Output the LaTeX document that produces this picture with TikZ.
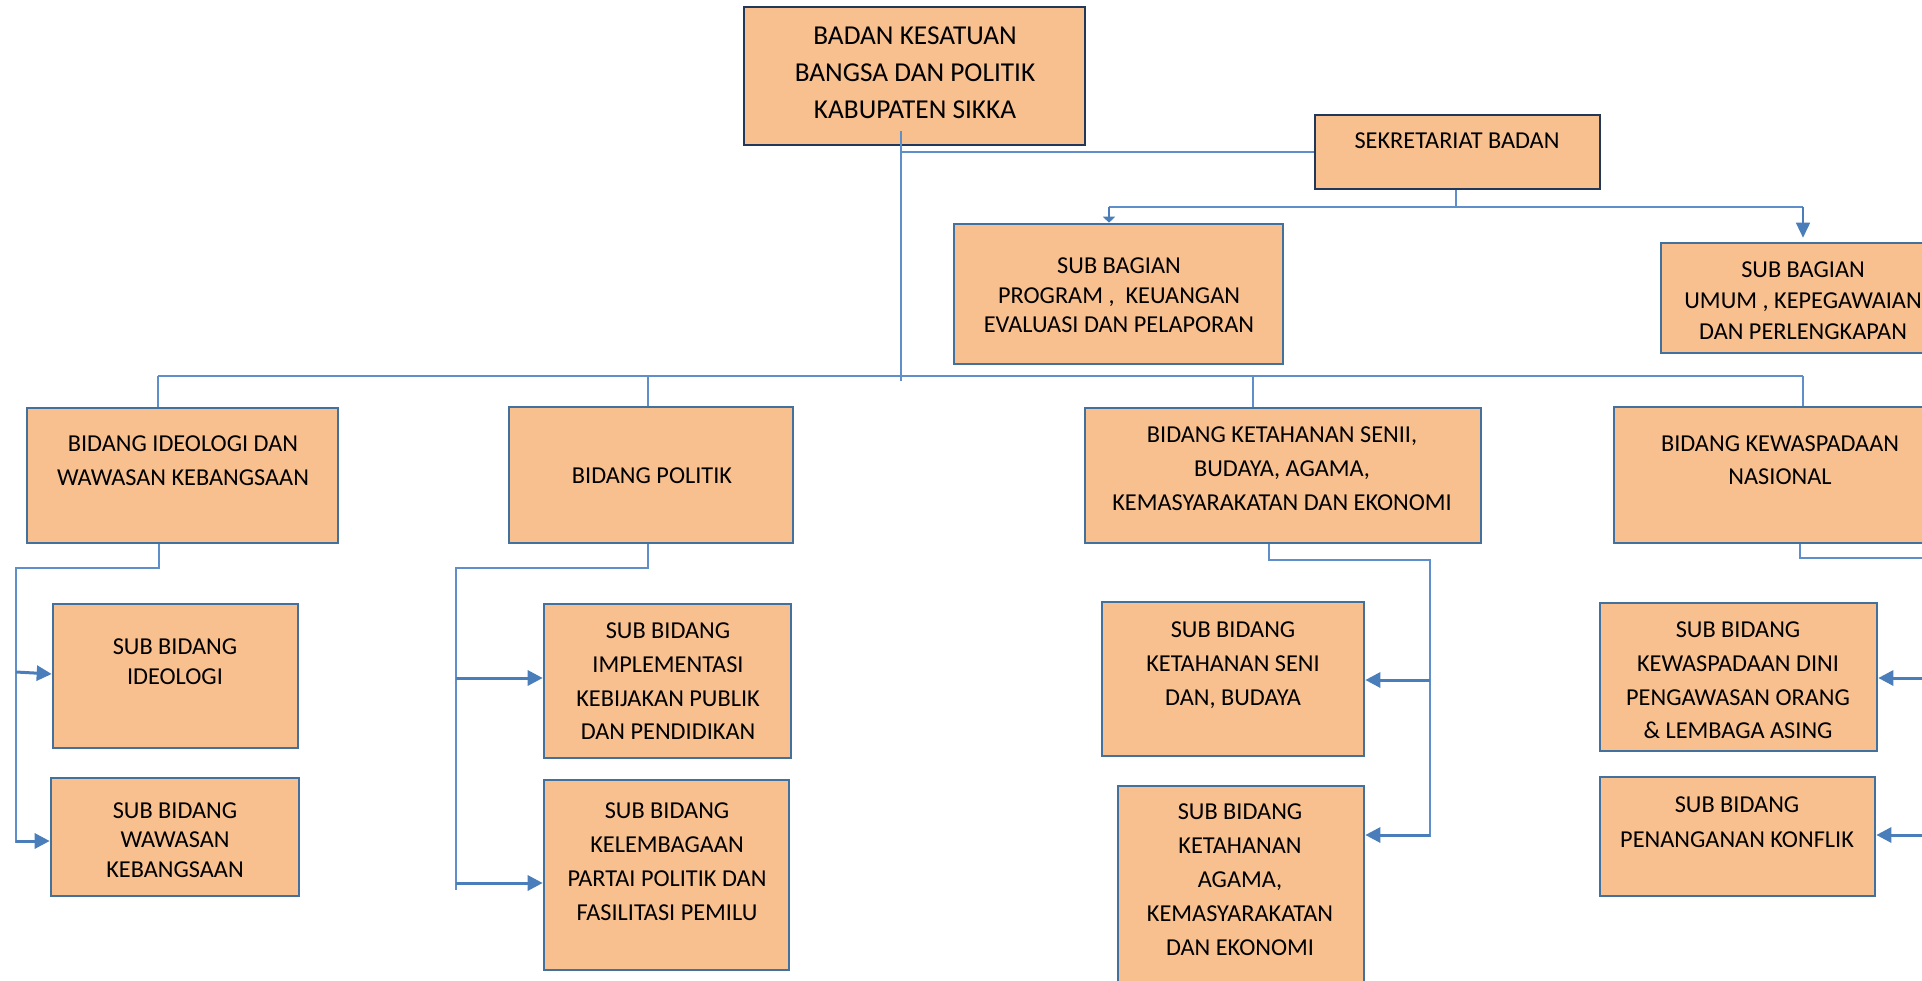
\documentclass[tikz,border=0pt]{standalone}
\usepackage{fontspec}
\setmainfont{Carlito}
\usetikzlibrary{arrows.meta}
\definecolor{boxfill}{HTML}{F8BF8F}
\definecolor{darkedge}{HTML}{22385A}
\definecolor{edge}{HTML}{41719C}
\definecolor{conn}{HTML}{5E8FCB}
\definecolor{arr}{HTML}{4A7EBB}
\tikzset{
  orgbox/.style={draw=edge, line width=2.6pt, fill=boxfill, inner sep=0pt},
  topbox/.style={orgbox, draw=darkedge},
  txt/.style={align=center, inner sep=0pt, font=\fontsize{24.3}{#1}\selectfont},
  txt/.default=34,
  bigtxt/.style={align=center, inner sep=0pt, font=\fontsize{27.3}{#1}\selectfont},
  conline/.style={draw=conn, line width=1.5pt},
  arrline/.style={draw=arr, line width=3pt, -{Triangle[length=15pt,width=15pt]}}
}
\begin{document}
\begin{tikzpicture}[x=1pt,y=-1pt]
\useasboundingbox (0,0) rectangle (1922,981);
\clip (0,0) rectangle (1922,981);
% boxes
\node[topbox, minimum width=341pt, minimum height=138pt] (top) at (914.5,76) {};
\node[topbox, minimum width=285pt, minimum height=74pt] (sek) at (1457.5,152) {};
\node[orgbox, minimum width=329pt, minimum height=140pt] (subprog) at (1118.5,294) {};
\node[orgbox, minimum width=274pt, minimum height=110pt] (subumum) at (1798,298) {};
\node[orgbox, minimum width=311pt, minimum height=135pt] (bid1) at (182.5,475.5) {};
\node[orgbox, minimum width=284pt, minimum height=136pt] (bid2) at (651,475) {};
\node[orgbox, minimum width=396pt, minimum height=135pt] (bid3) at (1283,475.5) {};
\node[orgbox, minimum width=321pt, minimum height=136pt] (bid4) at (1774.5,475) {};
\node[orgbox, minimum width=245pt, minimum height=144pt] (subideo) at (175.5,676) {};
\node[orgbox, minimum width=248pt, minimum height=118pt] (subwaw) at (175,837) {};
\node[orgbox, minimum width=247pt, minimum height=154pt] (subimpl) at (667.5,681) {};
\node[orgbox, minimum width=245pt, minimum height=190pt] (subkel) at (666.5,875) {};
\node[orgbox, minimum width=262pt, minimum height=154pt] (subseni) at (1233,679) {};
\node[orgbox, minimum width=246pt, minimum height=209pt] (subagama) at (1241,890.5) {};
\node[orgbox, minimum width=277pt, minimum height=148pt] (subkew) at (1738.5,677) {};
\node[orgbox, minimum width=275pt, minimum height=119pt] (subpen) at (1737.5,836.5) {};
% texts
\node[bigtxt=37] (ttop) at (915,73) {BADAN KESATUAN\\BANGSA DAN POLITIK\\KABUPATEN SIKKA};
\node[txt] (tsek) at (1457,141) {SEKRETARIAT BADAN};
\node[txt=29.5] (tsubprog) at (1119,295.5) {SUB BAGIAN\\PROGRAM ,\ \ KEUANGAN\\EVALUASI DAN PELAPORAN};
\node[txt=31] (tsubumum) at (1803,301) {SUB BAGIAN\\UMUM , KEPEGAWAIAN\\DAN PERLENGKAPAN};
\node[txt] (tbid1) at (183,461) {BIDANG IDEOLOGI DAN\\WAWASAN KEBANGSAAN};
\node[txt] (tbid2) at (652,476) {BIDANG POLITIK};
\node[txt] (tbid3) at (1282,469) {BIDANG KETAHANAN SENII,\\BUDAYA, AGAMA,\\KEMASYARAKATAN DAN EKONOMI};
\node[txt=33] (tbid4) at (1780,460.5) {BIDANG KEWASPADAAN\\NASIONAL};
\node[txt=30] (tsubideo) at (175,662) {SUB BIDANG\\IDEOLOGI};
\node[txt=29.5] (tsubwaw) at (175,840) {SUB BIDANG\\WAWASAN\\KEBANGSAAN};
\node[txt=33.7] (tsubimpl) at (668,681.5) {SUB BIDANG\\IMPLEMENTASI\\KEBIJAKAN PUBLIK\\DAN PENDIDIKAN};
\node[txt] (tsubkel) at (667,862) {SUB BIDANG\\KELEMBAGAAN\\PARTAI POLITIK DAN\\FASILITASI PEMILU};
\node[txt] (tsubseni) at (1233,665) {SUB BIDANG\\KETAHANAN SENI\\DAN, BUDAYA};
\node[txt] (tsubagama) at (1240,879.5) {SUB BIDANG\\KETAHANAN\\AGAMA,\\KEMASYARAKATAN\\DAN EKONOMI};
\node[txt=33.7] (tsubkew) at (1738,680.5) {SUB BIDANG\\KEWASPADAAN DINI\\PENGAWASAN ORANG\\\& LEMBAGA ASING};
\node[txt=35] (tsubpen) at (1737,822.5) {SUB BIDANG\\PENANGANAN KONFLIK};
% helper coordinates
\coordinate (trunkTop) at (901,131);
\coordinate (trunkBot) at (901,381);
\coordinate (hsL) at (158,376);
\coordinate (hsR) at (1803,376);
\coordinate (sekJ) at (1456,207);
\coordinate (sekL) at (1109,207);
\coordinate (sekR) at (1803,207);
\coordinate (b1a) at (159,568);
\coordinate (b1b) at (16,568);
\coordinate (b1c) at (16,843);
\coordinate (b2a) at (648,568);
\coordinate (b2b) at (456,568);
\coordinate (b2c) at (456,890);
\coordinate (b3a) at (1269,560);
\coordinate (b3b) at (1430,560);
\coordinate (b3c) at (1430,837);
\coordinate (b4a) at (1800,558);
\coordinate (b4b) at (1930,558);
\coordinate (e4a) at (1930,678);
\coordinate (e4b) at (1930,835);
% connectors
\draw[conline] (trunkTop) -- (trunkBot);
\draw[conline] (trunkTop |- sek.west) -- (sek.west);
\draw[conline] (sek.south -| sekJ) -- (sekJ);
\draw[conline] (sekL) -- (sekR);
\draw[arrline, line width=1.5pt, -{Triangle[length=6pt,width=12pt]}] (sekL) -- (sekL |- subprog.north);
\draw[arrline, line width=1.5pt, -{Triangle[length=15pt,width=14pt]}] (sekR) -- ([yshift=4pt]sekR |- subumum.north);
\draw[conline] (hsL) -- (hsR);
\draw[conline] (hsL) -- (hsL |- bid1.north);
\draw[conline] (648,376) -- (648,376 |- bid2.north);
\draw[conline] (1253,376) -- (1253,376 |- bid3.north);
\draw[conline] (hsR) -- (hsR |- bid4.north);
% bidang 1
\draw[conline] (b1a |- bid1.south) -- (b1a) -- (b1b) -- (b1c);
\draw[arrline] (16,672) -- (subideo.west |- 0,674);
\draw[arrline] (16,841) -- (subwaw.west |- 0,841);
% bidang 2
\draw[conline] (b2a |- bid2.south) -- (b2a) -- (b2b) -- (b2c);
\draw[arrline] (456,678) -- (subimpl.west |- 0,678);
\draw[arrline] (456,883) -- (subkel.west |- 0,883);
% bidang 3
\draw[conline] (b3a |- bid3.south) -- (b3a) -- (b3b) -- (b3c);
\draw[arrline] (1430,680) -- (subseni.east |- 0,680);
\draw[arrline] (1430,835) -- (subagama.east |- 0,835);
% bidang 4
\draw[conline] (b4a |- bid4.south) -- (b4a) -- (b4b);
\draw[arrline] (e4a) -- (subkew.east |- e4a);
\draw[arrline] (e4b) -- (subpen.east |- e4b);
\end{tikzpicture}
\end{document}
